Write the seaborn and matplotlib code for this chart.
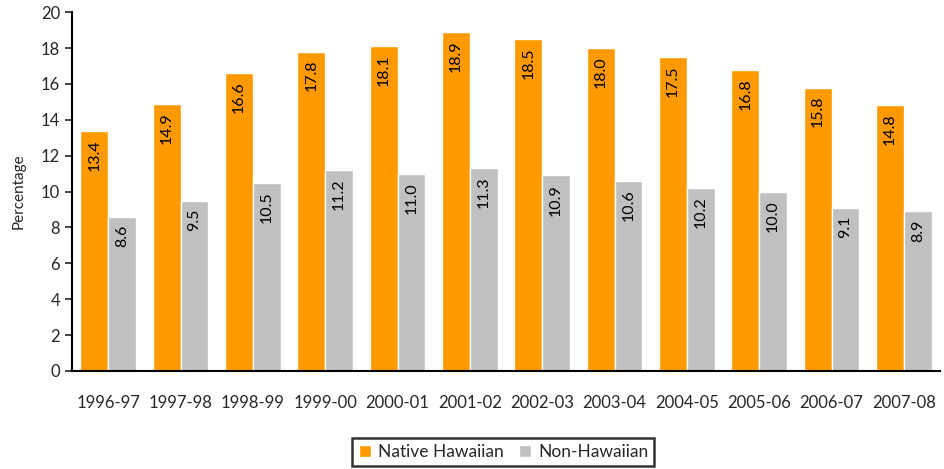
import numpy as np
import pandas as pd
import matplotlib
matplotlib.use("Agg")
import matplotlib.pyplot as plt
import seaborn as sns

years = ['1996-97', '1997-98', '1998-99', '1999-00', '2000-01', '2001-02',
         '2002-03', '2003-04', '2004-05', '2005-06', '2006-07', '2007-08']
native = [13.4, 14.9, 16.6, 17.8, 18.1, 18.9, 18.5, 18.0, 17.5, 16.8, 15.8, 14.8]
non_native = [8.6, 9.5, 10.5, 11.2, 11.0, 11.3, 10.9, 10.6, 10.2, 10.0, 9.1, 8.9]
groups = ['Native Hawaiian', 'Non-Hawaiian']
colors = ['#FF9900', '#C0C0C0']

df = pd.DataFrame({
    'Year': years * 2,
    'Group': [groups[0]] * len(years) + [groups[1]] * len(years),
    'Value': native + non_native,
})

sns.set_style("white")
plt.rcParams['font.family'] = ['Lato', 'DejaVu Sans']

fig = plt.figure(figsize=(9.44, 4.69), dpi=100)
ax = fig.add_axes([0.0763, 0.209, 0.9195, 0.765])

sns.barplot(data=df, x='Year', y='Value', hue='Group', palette=colors,
            width=0.77, saturation=1, ax=ax, legend=True)

for cont in ax.containers:
    for bar in cont:
        h = bar.get_height()
        ax.annotate(f'{h:.1f}', (bar.get_x() + bar.get_width() / 2, h),
                    xytext=(0, -6), textcoords='offset points',
                    rotation=90, ha='center', va='top', fontsize=11.5, color='black')

ax.set_ylim(0, 20)
ax.set_yticks(np.arange(0, 21, 2))
ax.set_xlim(-0.5, 11.5)
ax.set_xlabel('')
ax.set_ylabel('Percentage', fontsize=11, labelpad=11)
ax.tick_params(axis='y', left=True, length=5, width=1.2, labelsize=12, direction='out')
ax.tick_params(axis='x', bottom=False, labelsize=12, pad=14)
for s in ['top', 'right']:
    ax.spines[s].set_visible(False)
for s in ['left', 'bottom']:
    ax.spines[s].set_color('black')
    ax.spines[s].set_linewidth(1.5)

leg = ax.legend(loc='lower center', bbox_to_anchor=(0.497, -0.29), ncol=2,
                frameon=True, fancybox=False, fontsize=12.5, handlelength=0.7,
                handleheight=0.7, handletextpad=0.4, columnspacing=0.9,
                borderpad=0.35)
leg.get_frame().set_edgecolor('black')
leg.get_frame().set_linewidth(1.8)

fig.savefig('out.png', dpi=100)
